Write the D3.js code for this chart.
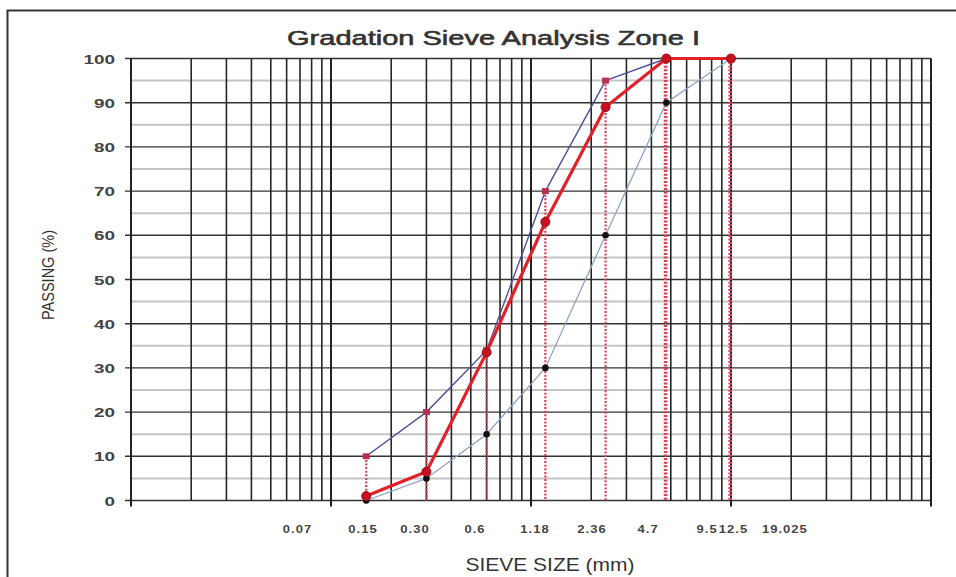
<!DOCTYPE html>
<html>
<head>
<meta charset="utf-8">
<script src="https://cdn.jsdelivr.net/npm/d3@7"></script>
<style>
  body { margin: 0; background: #fff; }
  svg { display: block; font-family: "Liberation Sans", Arial, sans-serif; }
</style>
</head>
<body>
<svg id="chart" width="956" height="577"></svg>
<script>
// sieve sizes (mm) and % passing
var sieveSizes = [0.15, 0.3, 0.6, 1.18, 2.36, 4.75, 10];
var upperLimit = [10, 20, 34, 70, 95, 100, 100];
var lowerLimit = [0, 5, 15, 30, 60, 90, 100];
var passing    = [1, 6.5, 33.5, 63, 89, 100, 100];

var yTicks = [0, 10, 20, 30, 40, 50, 60, 70, 80, 90, 100];
var yMinor = [5, 15, 25, 35, 45, 55, 65, 75, 85, 95];
var decades = [0.01, 0.1, 1, 10, 100];
// bottom labels and where they sit along the size axis
var xTickLabels = ["0.07", "0.15", "0.30", "0.6", "1.18", "2.36", "4.7", "9.5", "12.5", "19.025"];
var xTickAt     = [0.068, 0.1445, 0.263, 0.525, 1.047, 2.02, 3.85, 7.6, 10.3, 18.6];

var svg = d3.select("#chart");
var plotLeft = 131, plotRight = 931, plotTop = 58.5, plotBottom = 500.5;

var x = d3.scaleLog().domain([0.01, 100]).range([plotLeft, plotRight]);
var y = d3.scaleLinear().domain([0, 100]).range([plotBottom, plotTop]);

// outer frame
svg.append("rect")
    .attr("x", 7.5).attr("y", 10.5)
    .attr("width", 1000).attr("height", 700)
    .attr("fill", "none")
    .attr("stroke", "#333")
    .attr("stroke-width", 2);

var grid = svg.append("g");

grid.selectAll(".hminor")
    .data(yMinor)
    .enter().append("line")
    .attr("x1", plotLeft).attr("x2", plotRight)
    .attr("y1", d => y(d)).attr("y2", d => y(d))
    .attr("stroke", "#c4c4c4")
    .attr("stroke-width", 2);

grid.selectAll(".hmajor")
    .data(yTicks)
    .enter().append("line")
    .attr("x1", plotLeft - 6).attr("x2", plotRight)
    .attr("y1", d => y(d)).attr("y2", d => y(d))
    .attr("stroke", "#333")
    .attr("stroke-width", 1.4);

grid.selectAll(".vline")
    .data(x.ticks())
    .enter().append("line")
    .attr("x1", d => x(d)).attr("x2", d => x(d))
    .attr("y1", plotTop).attr("y2", plotBottom)
    .attr("stroke", "#262626")
    .attr("stroke-width", 1.6);

// decade ticks hang below the axis
grid.selectAll(".dtick")
    .data(decades)
    .enter().append("line")
    .attr("x1", d => x(d)).attr("x2", d => x(d))
    .attr("y1", plotTop).attr("y2", plotBottom + 6)
    .attr("stroke", "#222")
    .attr("stroke-width", 2);

// y axis labels
svg.selectAll(".ylab")
    .data(yTicks)
    .enter().append("text")
    .attr("transform", d => "translate(115," + (y(d) + 5) + ") scale(1.4,1)")
    .attr("text-anchor", "end")
    .attr("font-size", 13.5)
    .attr("font-weight", "bold")
    .attr("fill", "#444")
    .text(d => d);

// x labels
svg.selectAll(".xlab")
    .data(xTickLabels)
    .enter().append("text")
    .attr("transform", (d, i) => "translate(" + x(xTickAt[i]) + ",533) scale(1.3,1)")
    .attr("text-anchor", "middle")
    .attr("font-size", 10)
    .attr("font-weight", "bold")
    .attr("letter-spacing", 0.8)
    .attr("fill", "#444")
    .text(d => d);

// titles
svg.append("text")
    .attr("x", 493.5).attr("y", 45)
    .attr("text-anchor", "middle")
    .attr("font-size", 21)
    .attr("fill", "#333")
    .attr("stroke", "#333")
    .attr("stroke-width", 0.6)
    .attr("textLength", 413)
    .attr("lengthAdjust", "spacingAndGlyphs")
    .text("Gradation Sieve Analysis Zone I");

svg.append("text")
    .attr("x", 550).attr("y", 571)
    .attr("text-anchor", "middle")
    .attr("font-size", 18)
    .attr("fill", "#333")
    .attr("textLength", 169)
    .attr("lengthAdjust", "spacingAndGlyphs")
    .text("SIEVE SIZE (mm)");

svg.append("text")
    .attr("transform", "translate(54,275) rotate(-90)")
    .attr("text-anchor", "middle")
    .attr("font-size", 16)
    .attr("fill", "#333")
    .attr("textLength", 90)
    .attr("lengthAdjust", "spacingAndGlyphs")
    .text("PASSING (%)");

var upperPts = sieveSizes.map((s, i) => [s, upperLimit[i]]);
var lowerPts = sieveSizes.map((s, i) => [s, lowerLimit[i]]);
var passPts  = sieveSizes.map((s, i) => [s, passing[i]]);

// red dotted drop lines
svg.selectAll(".drop")
    .data(upperPts.concat(passPts.slice(5)))
    .enter().append("line")
    .attr("x1", (d, i) => x(d[0]) + (i > 6 ? -1.5 : 0))
    .attr("x2", (d, i) => x(d[0]) + (i > 6 ? -1.5 : 0))
    .attr("y1", d => y(d[1])).attr("y2", plotBottom)
    .attr("stroke", "#d8405a")
    .attr("stroke-width", 2.2)
    .attr("stroke-dasharray", "2,1.6");

var line = d3.line().x(d => x(d[0])).y(d => y(d[1]));

svg.append("path").datum(lowerPts)
    .attr("d", line)
    .attr("fill", "none")
    .attr("stroke", "#8fa2c4")
    .attr("stroke-width", 1.3);

svg.append("path").datum(upperPts)
    .attr("d", line)
    .attr("fill", "none")
    .attr("stroke", "#50509c")
    .attr("stroke-width", 1.4);

svg.append("path").datum(passPts)
    .attr("d", line)
    .attr("fill", "none")
    .attr("stroke", "#e3202a")
    .attr("stroke-width", 3.2);

svg.selectAll(".lowdot")
    .data(lowerPts)
    .enter().append("circle")
    .attr("cx", d => x(d[0])).attr("cy", d => y(d[1]))
    .attr("r", 3.3)
    .attr("fill", "#111");

svg.selectAll(".updot")
    .data(upperPts)
    .enter().append("rect")
    .attr("x", d => x(d[0]) - 3.5).attr("y", d => y(d[1]) - 3)
    .attr("width", 7).attr("height", 6)
    .attr("fill", "#b8304e");

svg.selectAll(".passdot")
    .data(passPts)
    .enter().append("circle")
    .attr("cx", d => x(d[0])).attr("cy", d => y(d[1]))
    .attr("r", 4.5)
    .attr("fill", "#c8101e")
    .attr("stroke", "#9a0d18")
    .attr("stroke-width", 1);
</script>
</body>
</html>
